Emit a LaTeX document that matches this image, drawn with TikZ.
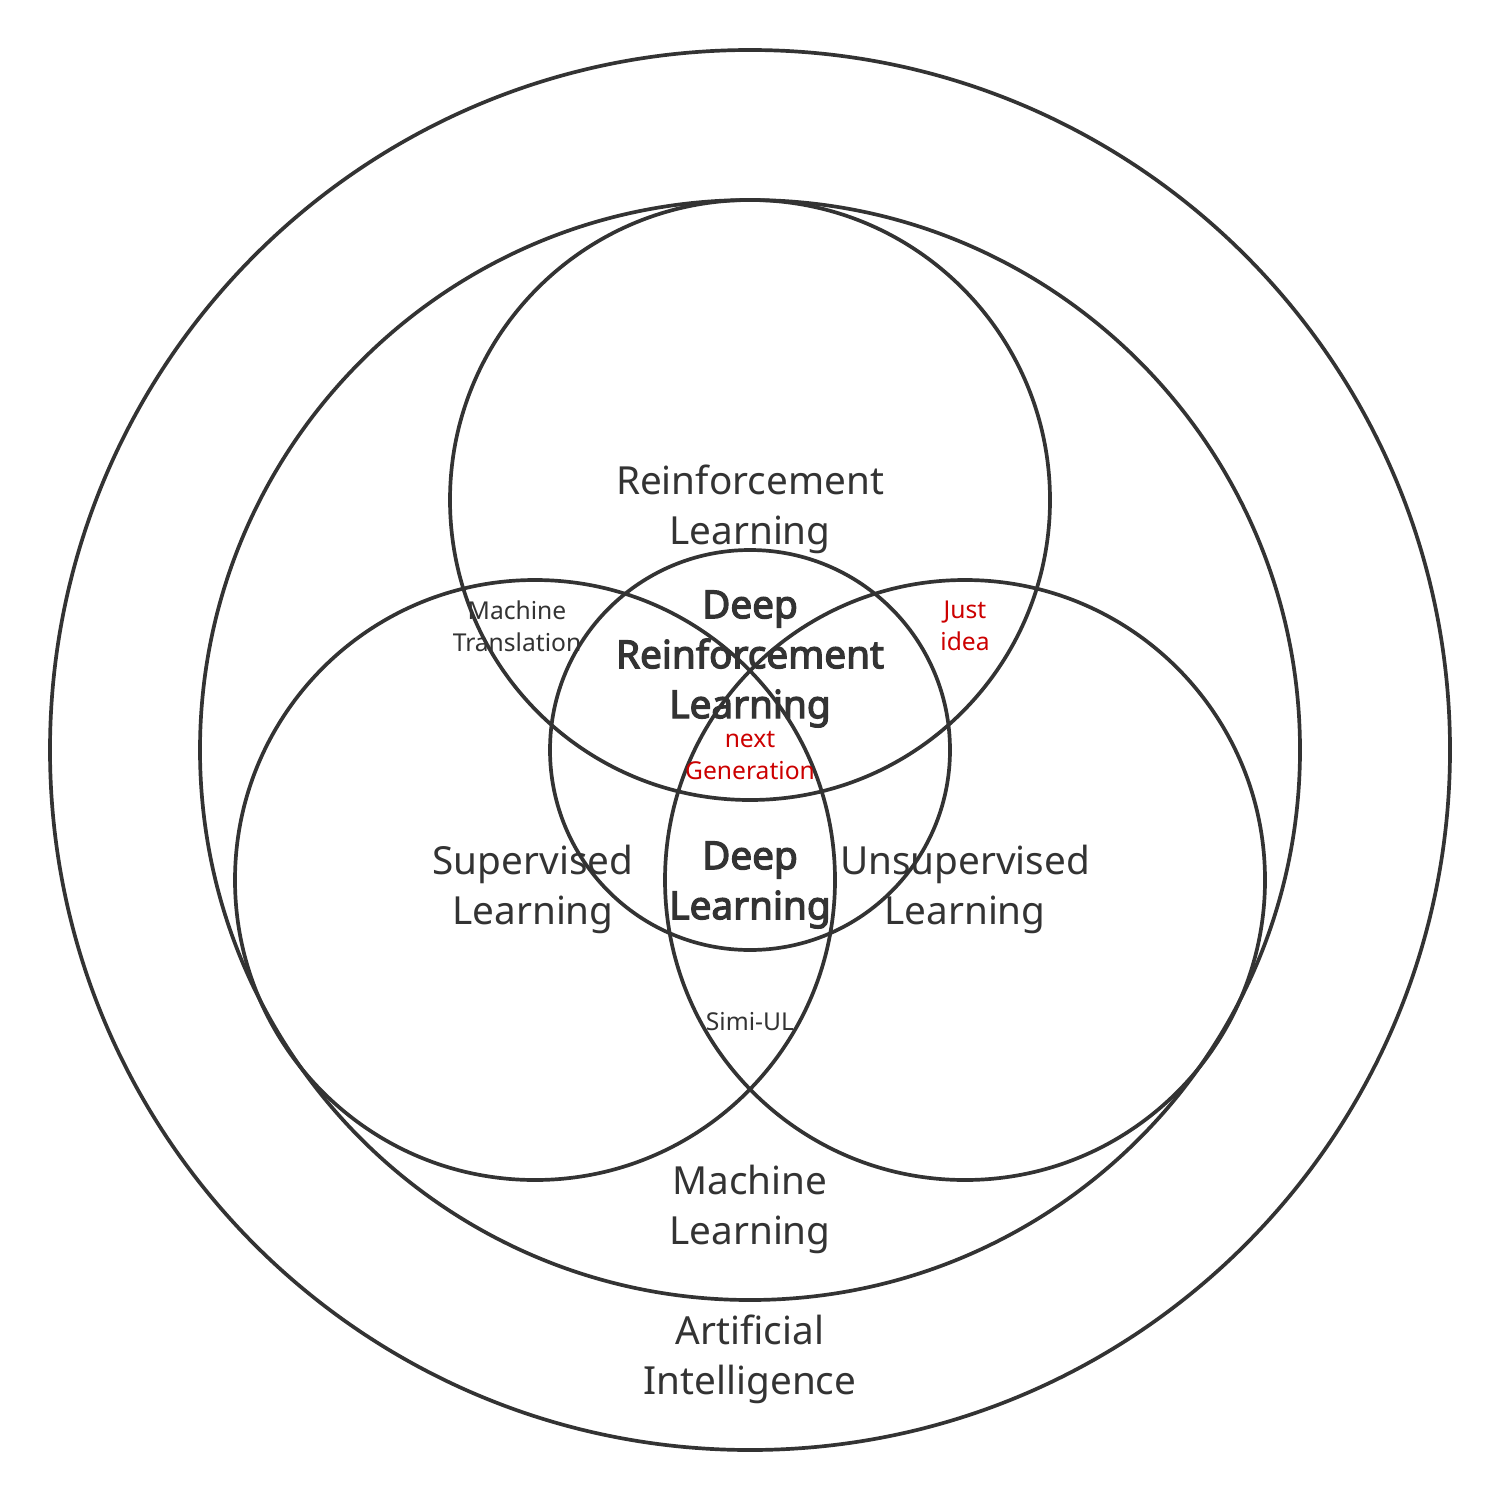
\documentclass[tikz,border=0pt]{standalone}
\usepackage{fontspec}
\setmainfont{Noto Sans}[AutoFakeBold=3.2]
\usepackage{xcolor}
\usetikzlibrary{positioning}
\definecolor{venngray}{RGB}{51,51,51}
\definecolor{vennred}{RGB}{204,0,0}

\begin{document}
\begin{tikzpicture}[x=0.01cm, y=-0.01cm,
					ring/.style={draw=venngray, line width=1.05pt},
					biglabel/.style={text=venngray, align=center, inner sep=0pt, font=\fontsize{11}{14.2}\selectfont},
					boldlabel/.style={biglabel, font=\fontsize{11}{14.2}\selectfont\bfseries},
					smalllabel/.style={text=venngray, align=center, inner sep=0pt, font=\fontsize{7}{9.1}\selectfont},
					redlabel/.style={smalllabel, text=vennred}]
					
					\useasboundingbox (0,0) rectangle (1500,1500);
					
					% circles
					\draw[ring] (750,750) circle (700);
					\draw[ring] (750,750) circle (550);
					\draw[ring] (750,500) circle (300);
					\draw[ring] (535,880) circle (300);
					\draw[ring] (965,880) circle (300);
					\draw[ring] (750,750) circle (200);
					
					% labels
					\node[biglabel] (rl) at (750,509) {Reinforcement\\Learning};
					\node[boldlabel] (drl) at (750,659) {Deep\\Reinforcement\\Learning};
					\node[redlabel] (nextgen) at (750,756) {next\\Generation};
					\node[smalllabel] (mt) at (517,626) {Machine\\Translation};
					\node[redlabel] (idea) at (965,626) {Just\\idea};
					\node[biglabel] (sl) at (533,889) {Supervised\\Learning};
					\node[biglabel] (ul) at (965,889) {Unsupervised\\Learning};
					\node[boldlabel] (dl) at (750,885) {Deep\\Learning};
					\node[smalllabel] (semi) at (750,1022) {Simi-UL};
					\node[biglabel] (ml) at (750,1209) {Machine\\Learning};
					\node[biglabel] (ai) at (750,1359) {Artificial\\Intelligence};
				\end{tikzpicture}
\end{document}
